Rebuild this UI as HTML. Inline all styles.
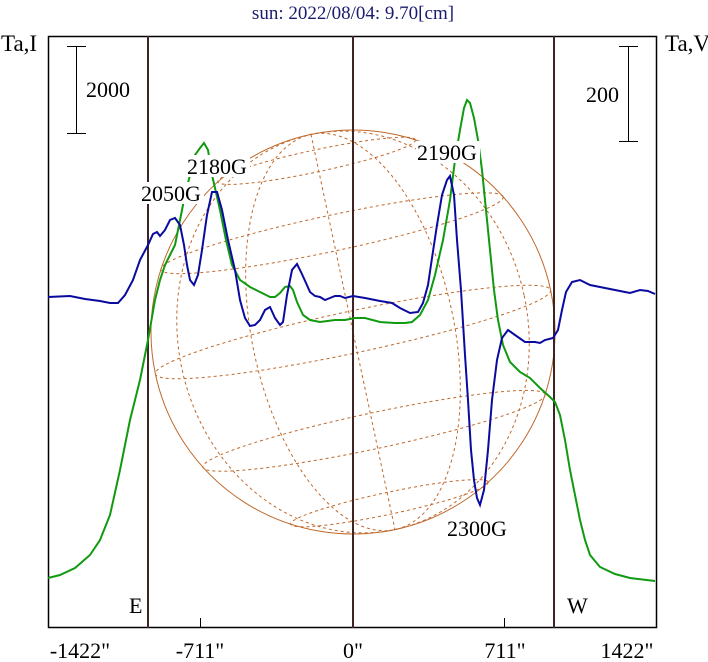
<!DOCTYPE html>
<html><head><meta charset="utf-8"><style>
html,body{margin:0;padding:0;background:#fff;}
svg{display:block;font-family:"Liberation Serif",serif;}
</style></head><body>
<svg width="708" height="662" viewBox="0 0 708 662" xmlns="http://www.w3.org/2000/svg">
<rect width="708" height="662" fill="#fff"/>
<text x="353" y="19" font-size="19" fill="#1a1a6e" text-anchor="middle">sun: 2022/08/04: 9.70[cm]</text>
<text x="1" y="51" font-size="23" fill="#000">Ta,I</text>
<text x="665" y="51" font-size="23" fill="#000">Ta,V</text>
<!-- sun -->
<g transform="rotate(-12 353 332)" fill="none" stroke="#c0682a" stroke-width="1">
<circle cx="353" cy="332" r="202"/>
<g stroke-dasharray="3,3">
<ellipse cx="353" cy="332" rx="101" ry="202"/>
<ellipse cx="353" cy="332" rx="175" ry="202"/>
<line x1="353" y1="130" x2="353" y2="534"/>
<ellipse cx="353" cy="332" rx="202" ry="21"/>
<ellipse cx="353" cy="231" rx="175" ry="18"/>
<ellipse cx="353" cy="433" rx="175" ry="18"/>
<ellipse cx="353" cy="157" rx="101" ry="11"/>
<ellipse cx="353" cy="507" rx="101" ry="11"/>
</g></g>
<!-- axes -->
<rect x="48.5" y="36.5" width="608" height="591" fill="none" stroke="#000" stroke-width="1.5"/>
<g stroke="#3f2424" stroke-width="2">
<line x1="148" y1="36" x2="148" y2="628"/>
<line x1="353" y1="36" x2="353" y2="628"/>
<line x1="554" y1="36" x2="554" y2="628"/>
</g>
<g stroke="#000" stroke-width="1">
<line x1="200.5" y1="618" x2="200.5" y2="628"/>
<line x1="504.5" y1="618" x2="504.5" y2="628"/>
<line x1="76.5" y1="46" x2="76.5" y2="133"/>
<line x1="67" y1="46.5" x2="86" y2="46.5"/>
<line x1="67" y1="133.5" x2="86" y2="133.5"/>
<line x1="628.5" y1="46" x2="628.5" y2="141"/>
<line x1="619" y1="46.5" x2="638" y2="46.5"/>
<line x1="619" y1="141.5" x2="638" y2="141.5"/>
</g>
<g font-size="22">
<text x="86" y="97">2000</text>
<text x="586" y="102">200</text>
<text x="129" y="613">E</text>
<text x="567" y="613">W</text>
</g>
<g font-size="22" text-anchor="middle">
<text x="80" y="658">-1422"</text>
<text x="200" y="658">-711"</text>
<text x="353" y="658">0"</text>
<text x="505" y="658">711"</text>
<text x="627" y="658">1422"</text>
</g>
<!-- green -->
<polyline fill="none" stroke="#109a10" stroke-width="2" points="48,578 60,575 75,568 90,555 100,540 110,515 120,470 130,420 140,380 148,340 155,300 160,280 165,265 170,255 175,245 180,220 185,195 190,175 195,155 200,148 204,143 208,150 212,175 215,188 220,210 226,240 232,265 240,280 250,287 260,292 270,297 275,297 280,293 285,287 290,286 293,290 297,302 303,315 310,320 320,322 335,320 345,320 355,318 365,318 380,322 395,323 405,323 412,322 420,315 428,300 435,275 443,240 450,200 455,160 460,130 464,108 467,100 470,103 474,118 478,140 482,170 486,210 490,250 494,290 498,320 503,345 510,362 520,372 530,378 540,388 550,397 555,402 560,415 565,440 570,470 575,495 580,520 585,540 590,555 600,567 615,574 630,578 655,581"/>
<!-- blue -->
<polyline fill="none" stroke="#0a0aa0" stroke-width="2" points="48,297 70,296 85,299 100,301 110,303 118,303 125,295 133,280 140,260 148,245 153,234 157,232 160,236 165,230 170,220 175,218 180,225 184,245 187,265 190,280 194,285 198,275 202,250 207,215 212,192 217,192 222,210 228,240 235,270 240,300 245,318 250,326 255,325 260,320 265,310 270,307 275,318 280,325 283,322 287,295 292,270 297,264 301,272 306,283 310,292 315,296 320,297 325,300 330,298 335,296 340,296 345,298 353,296 365,298 380,301 392,303 400,308 410,313 418,312 423,303 428,285 432,258 437,225 442,195 447,180 450,176 454,195 457,240 461,290 465,355 468,400 471,450 474,480 477,498 480,505 484,490 488,450 492,400 497,360 502,338 508,330 515,335 525,342 535,342 540,343 545,340 553,338 558,330 562,310 566,292 572,282 580,280 590,285 600,287 615,290 625,292 630,293 640,290 648,291 655,294"/>
<!-- labels -->
<g font-size="22">
<rect x="186" y="155" width="64" height="22" fill="#fff"/>
<text x="187" y="174">2180G</text>
<rect x="140" y="182" width="64" height="22" fill="#fff"/>
<text x="141" y="201">2050G</text>
<rect x="416" y="141" width="64" height="22" fill="#fff"/>
<text x="417" y="160">2190G</text>
<text x="447" y="536">2300G</text>
</g>
</svg>
</body></html>
